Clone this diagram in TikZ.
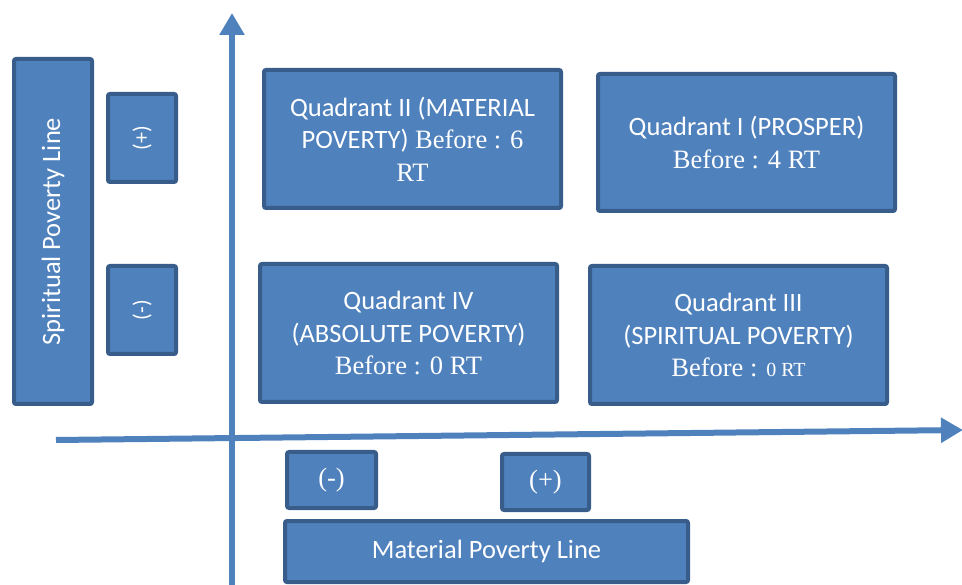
\documentclass[tikz,border=0pt]{standalone}
\usepackage{fontspec}
\setmainfont{Liberation Serif}
\newfontfamily\calfont{Carlito}
\usetikzlibrary{arrows.meta}
\definecolor{boxfill}{HTML}{4F81BD}
\definecolor{boxline}{HTML}{385D8A}
\begin{document}
\begin{tikzpicture}[x=1pt,y=-1pt,
  box/.style={draw=boxline, fill=boxfill, line width=4pt, rounded corners=2pt,
    text=white, align=center, inner sep=0pt, outer sep=0pt,
    font=\fontsize{26.5}{32.5}\selectfont},
  axisline/.style={draw=boxfill, line width=6pt, -{Triangle[width=24pt,length=22pt]}}]
\useasboundingbox (0,0) rectangle (962,585);
% axes
\coordinate (vstart) at (232,595);
\coordinate (vend) at (232,13);
\coordinate (hstart) at (56,440);
\coordinate (hend) at (963,430);
\draw[axisline] (vstart) -- (vend);
\draw[axisline] (hstart) -- (hend);
% left side
\node[box, minimum width=78pt, minimum height=345pt] (spl) at (53,231.5)
  {\rotatebox{90}{\calfont Spiritual Poverty Line}};
\node[box, minimum width=68pt, minimum height=88pt, font=\fontsize{22}{26}\selectfont] (sp) at (142,138)
  {\rotatebox{90}{\calfont (+)}};
\node[box, minimum width=68pt, minimum height=88pt, font=\fontsize{22}{26}\selectfont] (sm) at (142,310)
  {\rotatebox{90}{\calfont (-)}};
% quadrants
\node[box, minimum width=297pt, minimum height=138pt] (q2) at (412.5,139)
  {{\calfont Quadrant II (MATERIAL}\\{\calfont POVERTY)} Before : 6\\RT};
\node[box, minimum width=297pt, minimum height=137pt] (q1) at (746.5,142.5)
  {{\calfont Quadrant I (PROSPER)}\\Before : 4 RT};
\node[box, minimum width=297pt, minimum height=138pt] (q4) at (408.5,333)
  {{\calfont Quadrant IV}\\{\calfont (ABSOLUTE POVERTY)}\\Before : 0 RT};
\node[box, minimum width=297pt, minimum height=138pt] (q3) at (738.5,335)
  {{\calfont Quadrant III}\\{\calfont (SPIRITUAL POVERTY)}\\Before : {\fontsize{20}{32.5}\selectfont 0 RT}};
% bottom
\node[box, minimum width=89pt, minimum height=56pt] (mm) at (331.5,480) {(-)};
\node[box, minimum width=87pt, minimum height=56pt] (mp) at (545.5,482) {(+)};
\node[box, minimum width=403pt, minimum height=61pt] (mpl) at (486.5,551.5)
  {\calfont Material Poverty Line};
\end{tikzpicture}
\end{document}
